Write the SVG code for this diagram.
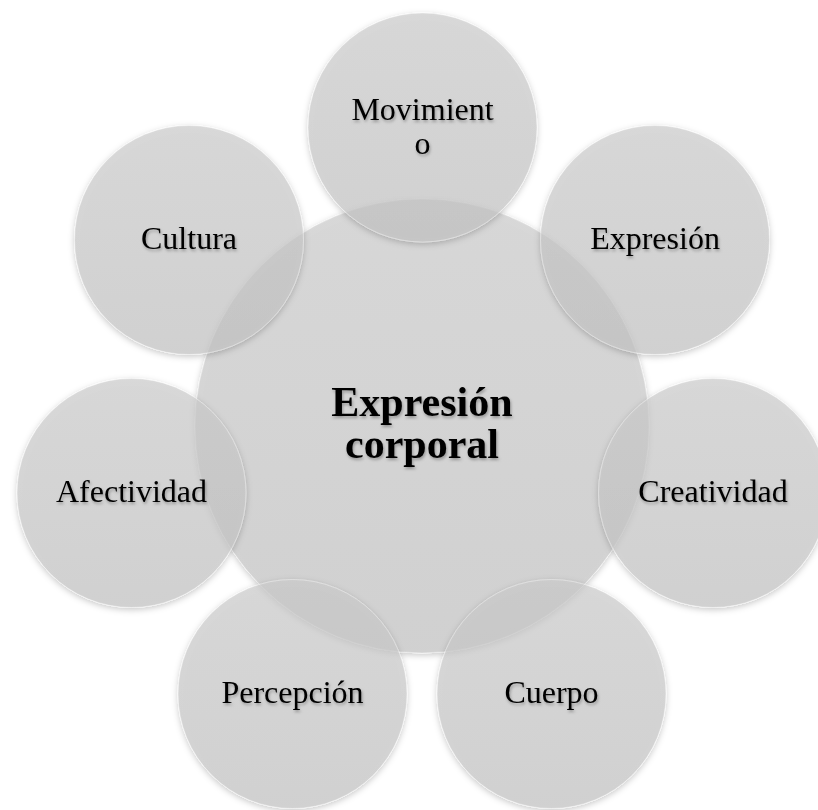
<svg xmlns="http://www.w3.org/2000/svg" width="818" height="810" viewBox="0 0 818 810">
  <defs>
    <linearGradient id="fillGrad" x1="0" y1="0" x2="0" y2="1">
      <stop offset="0" stop-color="#cacaca"/>
      <stop offset="1" stop-color="#c1c1c1"/>
    </linearGradient>
    <filter id="circleShadow" x="-20%" y="-20%" width="140%" height="140%">
      <feGaussianBlur in="SourceAlpha" stdDeviation="3" result="blur"/>
      <feOffset in="blur" dx="0" dy="2" result="off"/>
      <feComposite in="off" in2="SourceAlpha" operator="out" result="outer"/>
      <feColorMatrix in="outer" type="matrix" values="0 0 0 0 0  0 0 0 0 0  0 0 0 0 0  0 0 0 0.3 0" result="shadow"/>
      <feMerge>
        <feMergeNode in="shadow"/>
        <feMergeNode in="SourceGraphic"/>
      </feMerge>
    </filter>
    <filter id="textShadow" x="-10%" y="-30%" width="120%" height="160%">
      <feDropShadow dx="1" dy="2" stdDeviation="1.5" flood-color="#000" flood-opacity="0.3"/>
    </filter>
  </defs>
  <style>
    .bubble { fill: url(#fillGrad); fill-opacity: 0.7; stroke: #ffffff; stroke-opacity: 0.35; stroke-width: 1; filter: url(#circleShadow); }
    .lbl { font-family: "Liberation Serif", "Times New Roman", serif; font-size: 32px; fill: #000; text-anchor: middle; filter: url(#textShadow); }
    .main { font-family: "Liberation Serif", "Times New Roman", serif; font-size: 42px; font-weight: bold; fill: #000; text-anchor: middle; filter: url(#textShadow); }
  </style>
  <rect width="818" height="810" fill="#ffffff"/>

  <g id="node-center">
    <circle class="bubble" cx="422" cy="426" r="227"/>
    <text class="main" x="422" y="416">Expresión</text>
    <text class="main" x="422" y="458">corporal</text>
  </g>

  <g id="node-movimiento">
    <circle class="bubble" cx="422.5" cy="127.5" r="114.5"/>
    <text class="lbl" x="422.5" y="120">Movimient</text>
    <text class="lbl" x="422.5" y="154">o</text>
  </g>

  <g id="node-expresion">
    <circle class="bubble" cx="655" cy="240" r="114.5"/>
    <text class="lbl" x="655" y="249">Expresión</text>
  </g>

  <g id="node-creatividad">
    <circle class="bubble" cx="713" cy="493" r="114.5"/>
    <text class="lbl" x="713" y="502">Creatividad</text>
  </g>

  <g id="node-cuerpo">
    <circle class="bubble" cx="551.5" cy="694" r="114.5"/>
    <text class="lbl" x="551.5" y="703">Cuerpo</text>
  </g>

  <g id="node-percepcion">
    <circle class="bubble" cx="292.5" cy="694" r="114.5"/>
    <text class="lbl" x="292.5" y="703">Percepción</text>
  </g>

  <g id="node-afectividad">
    <circle class="bubble" cx="131.5" cy="493" r="114.5"/>
    <text class="lbl" x="131.5" y="502">Afectividad</text>
  </g>

  <g id="node-cultura">
    <circle class="bubble" cx="189" cy="240" r="114.5"/>
    <text class="lbl" x="189" y="249">Cultura</text>
  </g>
</svg>
